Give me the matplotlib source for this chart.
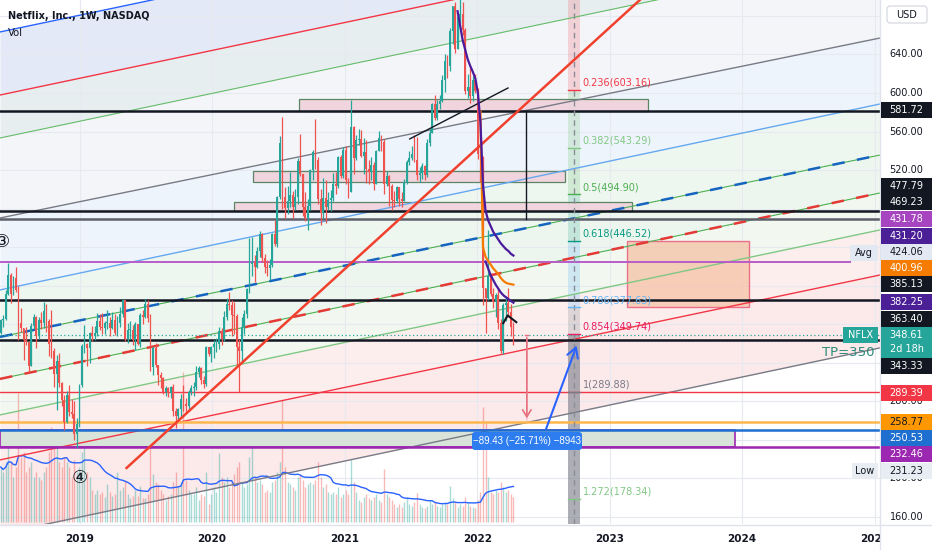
import numpy as np
import pandas as pd
import matplotlib
matplotlib.use("Agg")
import matplotlib.pyplot as plt
import matplotlib.dates as mdates
from matplotlib.patches import Rectangle, FancyBboxPatch
from matplotlib.transforms import blended_transform_factory

plt.rcParams['font.family'] = ['DejaVu Sans', 'Noto Sans CJK JP']

# ---------------- data (weekly candles, week of 2018-05-28 .. 2022-04-11) ----------------
first_open = 351.0
closes = [
    364, 365, 391, 411, 391, 408, 395, 361, 356, 343,
    341, 316, 358, 367, 348, 364, 361, 374, 363, 339,
    332, 308, 322, 299, 281, 258, 286, 269, 267, 246,
    256, 297,
    337, 339, 335, 351, 348, 351, 363, 357, 356, 361,
    361, 356, 364, 351, 361, 370, 385, 345, 354, 354,
    343, 360, 339, 369, 367, 381, 366, 315, 335, 318,
    307, 304, 290, 294, 288, 295, 270, 265, 272, 282,
    277, 275, 290, 294, 295, 310, 314, 302, 298, 336,
    329, 336,
    339, 339, 353, 345, 367, 381, 380, 369, 368, 336,
    332, 357, 370, 396, 422, 424, 419, 436, 454, 429,
    419, 418, 421, 454, 443, 492, 548, 492, 481, 488,
    494, 482, 492, 529, 516, 482, 470, 483, 520, 539,
    530, 490, 475, 491, 482, 489, 491, 505, 503, 534,
    514, 541,
    510, 497, 565, 532, 551, 552, 535, 539, 521, 518,
    525, 505, 540, 553, 549, 505, 514, 503, 489, 488,
    502, 490, 488, 508, 528, 533, 537, 530, 515, 517,
    524, 515, 548, 558, 589, 574, 589, 592, 614, 633,
    628, 664, 690, 646, 679, 682, 665, 602, 606, 597,
    613, 602,
    537, 525, 397, 387, 410, 391, 383, 390, 361, 332,
    380, 382, 373, 357, 348.61,
]
highs = [
    365, 369, 395, 423, 413, 410, 419, 400, 377, 356,
    357, 342, 361, 370, 368, 367, 373, 383, 381, 365,
    375, 335, 328, 330, 300, 286, 291, 297, 282, 280,
    263, 298,
    339, 359, 340, 352, 358, 358, 372, 370, 372, 363,
    375, 367, 373, 371, 368, 378, 386, 385, 361, 363,
    359, 362, 360, 372, 375, 386, 385, 371, 337, 340,
    318, 310, 305, 296, 295, 296, 298, 273, 273, 287,
    297, 283, 292, 297, 300, 316, 316, 315, 306, 337,
    336, 337,
    343, 346, 357, 356, 374, 387, 393, 385, 383, 370,
    345, 367, 375, 398, 449, 450, 432, 440, 457, 455,
    433, 427, 428, 455, 468, 493, 555, 575, 502, 503,
    518, 498, 500, 533, 557, 516, 497, 490, 521, 541,
    573, 534, 500, 512, 510, 497, 499, 517, 518, 535,
    536, 544,
    545, 512, 593, 566, 556, 563, 562, 553, 551, 530,
    534, 528, 541, 561, 556, 552, 519, 515, 506, 498,
    503, 502, 497, 511, 530, 540, 545, 556, 554, 523,
    527, 525, 552, 563, 590, 598, 593, 598, 619, 640,
    639, 668, 690, 695, 683, 701, 695, 668, 620, 626,
    618, 620,
    605, 545, 535, 397, 458, 413, 398, 392, 397, 365,
    382, 389, 398, 381, 362,
]
lows = [
    350, 357, 364, 390, 382, 390, 393, 344, 352, 323,
    338, 310, 316, 355, 335, 345, 355, 356, 352, 327,
    325, 295, 271, 295, 275, 250, 257, 265, 262, 240,
    231, 253,
    295, 330, 317, 320, 342, 344, 348, 354, 350, 350,
    355, 348, 355, 349, 348, 357, 367, 342, 340, 345,
    338, 333, 338, 336, 360, 366, 362, 311, 307, 315,
    297, 294, 287, 285, 284, 283, 265, 252, 260, 264,
    270, 268, 272, 286, 285, 292, 305, 298, 294, 296,
    327, 321,
    325, 331, 334, 338, 342, 364, 375, 348, 350, 316,
    290, 320, 350, 366, 392, 410, 404, 418, 430, 425,
    413, 410, 406, 419, 441, 440, 490, 480, 470, 474,
    482, 470, 478, 485, 514, 472, 467, 458, 478, 510,
    521, 485, 463, 470, 465, 478, 477, 488, 495, 501,
    512, 512,
    506, 491, 497, 516, 530, 546, 534, 516, 507, 505,
    510, 499, 505, 540, 540, 495, 503, 483, 478, 482,
    486, 483, 482, 488, 505, 525, 530, 528, 510, 508,
    511, 510, 513, 545, 560, 572, 572, 583, 591, 601,
    616, 623, 651, 642, 647, 673, 660, 599, 595, 590,
    592, 600,
    531, 508, 380, 351, 385, 389, 377, 367, 355, 330,
    329, 363, 367, 348, 338,
]
vol_2018 = [55, 50, 60, 75, 60, 45, 55, 129, 65, 70,
            50, 55, 60, 45, 50, 45, 42, 50, 55, 70,
            95, 85, 80, 60, 55, 65, 60, 55, 45, 62,
            50, 55]
vol_2019 = [70, 89, 50, 45, 32, 28, 32, 28, 30, 25,
            38, 30, 26, 28, 50, 32, 35, 42, 28, 24,
            26, 32, 26, 36, 24, 24, 28, 95, 48, 40,
            38, 32, 28, 22, 26, 28, 40, 50, 36, 40,
            150, 42, 32, 28, 28, 35, 22, 28, 26, 50,
            18, 28]
vol_2020 = [35, 30, 69, 45, 40, 45, 35, 40, 48, 55,
            60, 40, 35, 38, 65, 75, 45, 40, 42, 38,
            30, 32, 30, 40, 42, 50, 60, 122, 55, 40,
            38, 35, 32, 45, 48, 42, 35, 38, 40, 38,
            42, 60, 45, 35, 38, 30, 28, 30, 28, 35,
            25, 28]
vol_2021 = [32, 28, 62, 40, 30, 22, 20, 25, 28, 24,
            22, 25, 28, 22, 20, 53, 28, 25, 22, 18,
            15, 18, 15, 20, 25, 18, 16, 20, 29, 18,
            15, 14, 16, 22, 18, 20, 16, 15, 18, 20,
            18, 36, 24, 20, 15, 18, 16, 25, 20, 16,
            15, 14]
vol_2022 = [22, 30, 115, 100, 45, 30, 28, 32, 30, 40,
            35, 30, 32, 28, 25]

# indicator curves (weekly values)
ma_purple_start = '2021-11-08'
ma_purple = [685, 670, 655, 645, 635, 628, 622, 615, 600, 570, 505, 478,
             468, 462, 456, 452, 448, 444, 441, 438, 436, 433, 431.2]
ma_orange_start = '2022-01-10'
ma_orange = [581, 440, 430, 426, 422, 418, 415, 412, 408, 405, 403, 402,
             401.5, 400.96]
ma_indigo_start = '2022-01-24'
ma_indigo = [425, 418, 411, 406, 401, 397, 393, 390, 388, 386, 384, 382.25]

# parallel channel lines (price at start/end date)
chan_dates = ['2018-05-26', '2025-01-16']
chan_start = [663.4, 597.9, 553.3, 470.2, 395.5, 346.7, 303.1, 265.7, 219.0, 142.1]
chan_end = [855.6, 790.1, 745.4, 657.1, 588.6, 535.6, 496.2, 457.8, 411.0, 335.3]

# horizontal levels
black_levels = [581.72, 477.79, 469.23, 385.13, 343.33]
avg_level = 424.06
red_level = 289.39
orange_level = 258.77
blue_level = 250.53
purple_level = 232.46
last_price = 348.61

# fib retracement
fib_top = 699.92
fib_ratios = ['0.236', '0.382', '0.5', '0.618', '0.786', '0.854', '1', '1.272']
fib_values = [603.16, 543.29, 494.90, 446.52, 377.63, 349.74, 289.88, 178.34]

# right scale
price_grid = [160, 200, 240, 280, 320, 360, 400, 440, 480, 520, 560, 600, 640, 680]
price_ticks_shown = [640, 600, 560, 520, 280, 200, 160]
axis_labels = ['581.72', '477.79', '469.23', '431.78', '431.20', '424.06', '400.96',
               '385.13', '382.25', '363.40', '348.61', '343.33', '289.39', '258.77',
               '250.53', '232.46', '231.23']
years = [2019, 2020, 2021, 2022, 2023, 2024, 2025]

# ---------------- styling / layout ----------------
W, H = 932, 550
PR, PB = 880, 524
UP, DN = '#26a69a', '#ef5350'

fig = plt.figure(figsize=(W / 100, H / 100), dpi=100)
fig.patch.set_facecolor('white')
ax = fig.add_axes([0, (H - PB) / H, PR / W, PB / H])
ax.set_facecolor('white')


def d(s):
    return mdates.date2num(np.datetime64(s))


X0, X1 = d(chan_dates[0]), d(chan_dates[1])
YMIN, YMAX = 152.4, 696.6

# channel fills
fill_colors = ['#e4e9f7', '#e6eeef', '#f3f5f8', '#eef4fc', '#eef6f0',
               '#edf6ee', '#f2f8f0', '#fdeeee', '#fce9ea']
for i in range(len(chan_start) - 1):
    ax.fill_between([X0, X1], [chan_start[i], chan_end[i]],
                    [chan_start[i + 1], chan_end[i + 1]],
                    color=fill_colors[i], lw=0, zorder=0.2)

# grid
for p in price_grid:
    ax.axhline(p, color='#e6e9ef', lw=0.8, zorder=0.5)
for y in years:
    ax.axvline(d(f'{y}-01-01'), color='#e6e9ef', lw=0.8, zorder=0.5)

# fib column
fc0, fc1 = d('2022-09-08'), d('2022-10-11')
zone_cols = [('#f23645', .18), ('#81c784', .25), ('#4caf50', .18), ('#089981', .18),
             ('#64b5f6', .25), ('#9598a1', .30), ('#787b86', .60), ('#787b86', .60),
             ('#787b86', .60)]
bounds = [fib_top] + fib_values + [YMIN]
for i, (c, a) in enumerate(zone_cols):
    ax.fill_between([fc0, fc1], [bounds[i]] * 2, [bounds[i + 1]] * 2, color=c,
                    alpha=a, lw=0, zorder=0.7)

# volume
dates = pd.date_range('2018-05-28', periods=len(closes), freq='7D')
xd = mdates.date2num(dates.to_pydatetime())
c = np.array(closes, float)
o = np.concatenate([[first_open], c[:-1]])
hi = np.maximum(np.array(highs, float), np.maximum(o, c))
lo = np.minimum(np.array(lows, float), np.minimum(o, c))
cols = np.where(c >= o, UP, DN)
vol = np.array(vol_2018 + vol_2019 + vol_2020 + vol_2021 + vol_2022, float)
vol_ma = pd.Series(vol).rolling(20, min_periods=1).mean().values
vtrans = blended_transform_factory(ax.transData, ax.transAxes)
base = 2.0 / PB
ax.vlines(xd, base, base + vol / PB, colors=cols, lw=1.0, alpha=0.4,
          transform=vtrans, zorder=1)
ax.plot(xd, base + vol_ma / PB, color='#2962ff', lw=1.0, transform=vtrans, zorder=1.2)

# rectangles
rects = [('2020-08-27', '2023-04-16', 581.72, 593.5),
         ('2020-04-24', '2022-08-31', 507.6, 519.0),
         ('2020-02-29', '2023-03-05', 477.79, 486.8)]
for a0, a1, p0, p1 in rects:
    ax.add_patch(Rectangle((d(a0), p0), d(a1) - d(a0), p1 - p0, facecolor='#f1d2dc',
                           edgecolor='#4d7a55', lw=0.9, alpha=0.9, zorder=1.5))
ax.add_patch(Rectangle((X0, purple_level), d('2023-12-12') - X0, blue_level - purple_level,
                       facecolor='#d8e3da', edgecolor='#9c27b0', lw=1.2, zorder=1.5))
ax.add_patch(Rectangle((d('2023-02-17'), fib_values[4]), d('2024-01-21') - d('2023-02-17'),
                       fib_values[3] - fib_values[4], facecolor='#f6c2a6', alpha=0.75,
                       edgecolor='#e84a72', lw=1.0, zorder=1.6))

# channel lines
chan_styles = [dict(color='#2962ff', lw=1.0), dict(color='#f23645', lw=1.0),
               dict(color='#66bb6a', lw=0.8), dict(color='#787b86', lw=1.0),
               dict(color='#64a8f0', lw=1.0), dict(color='#4caf50', lw=0.8),
               dict(color='#4caf50', lw=0.8), dict(color='#81c784', lw=1.0),
               dict(color='#f23645', lw=1.0), dict(color='#787b86', lw=1.0)]
for i, st in enumerate(chan_styles):
    ax.plot([X0, X1], [chan_start[i], chan_end[i]], zorder=2, **st)
ax.plot([X0, X1], [chan_start[5], chan_end[5]], color='#1565c0', lw=1.8,
        dashes=(5, 5), zorder=2.1)
ax.plot([X0, X1], [chan_start[6], chan_end[6]], color='#e53935', lw=1.8,
        dashes=(5, 5), zorder=2.1)

# horizontal levels
blk_cols = ['#131722', '#131722', '#5d606b', '#131722', '#131722']
for p, col in zip(black_levels, blk_cols):
    ax.axhline(p, color=col, lw=1.8, zorder=3)
ax.plot([X0, d('2024-10-25')], [avg_level] * 2, color='#b85cc8', lw=1.4, zorder=3)
ax.axhline(red_level, color='#f23645', lw=1.0, zorder=3)
ax.axhline(orange_level, color='#ffb74d', lw=1.8, zorder=3)
ax.axhline(blue_level, color='#1e6fd0', lw=1.8, zorder=3)
ax.axhline(purple_level, color='#9c27b0', lw=1.8, zorder=3)
ax.axhline(last_price, color='#26a69a', lw=0.9, ls=(0, (1, 2)), zorder=3)

# fib lines + labels
fib_cols = ['#f23645', '#81c784', '#4caf50', '#089981', '#64b5f6', '#e91e63',
            '#787b86', '#81c784']
ax.plot([d('2022-09-24')] * 2, [YMIN, YMAX], color='#8a8d96', lw=1.0, dashes=(4, 3),
        zorder=3.2)
for r, v, col in zip(fib_ratios, fib_values, fib_cols):
    ax.plot([fc0, fc1], [v, v], color=col, lw=1.0, zorder=3.2)
    ax.annotate(f'{r}({v:.2f})', (d('2022-10-19'), v), xytext=(0, 1.5),
                textcoords='offset points', ha='left', va='bottom', fontsize=7,
                color=col, zorder=6)

# candles
ax.vlines(xd, lo, hi, colors=cols, lw=0.9, zorder=4)
ax.bar(xd, np.maximum(np.abs(c - o), 0.8), bottom=np.minimum(o, c), width=5.0,
       color=cols, lw=0, zorder=4.1)

# trend lines
ax.plot([d('2019-05-10'), d('2023-07-14')], [210.6, 734.5], color='#f0402e', lw=1.8,
        zorder=5)
ax.plot([d('2021-06-29'), d('2022-03-27')], [552.3, 605.2], color='#131722', lw=1.0,
        zorder=5)
ax.plot([d('2022-05-15')] * 2, [black_levels[2], black_levels[0]], color='#131722',
        lw=1.0, zorder=5)

# indicator curves
xp = mdates.date2num(pd.date_range(ma_purple_start, periods=len(ma_purple), freq='7D').to_pydatetime())
ax.plot(xp, ma_purple, color='#4a1a9c', lw=1.6, zorder=5.2)
xo = mdates.date2num(pd.date_range(ma_orange_start, periods=len(ma_orange), freq='7D').to_pydatetime())
ax.plot(xo, ma_orange, color='#f57c00', lw=1.6, zorder=5.1)
xi = mdates.date2num(pd.date_range(ma_indigo_start, periods=len(ma_indigo), freq='7D').to_pydatetime())
ax.plot(xi, ma_indigo, color='#4a1a9c', lw=1.6, zorder=5.2)
ax.plot([d('2022-03-14'), d('2022-03-26'), d('2022-04-19')], [361, 369, 362],
        color='#131722', lw=1.5, zorder=5.3)

# measurement arrows
mx = d('2022-05-18')
ax.add_patch(Rectangle((mx - 3, 259.18), 6, last_price - 259.18, facecolor='#f8bbd0',
                       alpha=0.5, lw=0, zorder=5))
ax.plot([mx - 4, mx + 4], [last_price] * 2, color='#e5707e', lw=1.0, zorder=5.4)
ax.annotate('', xy=(mx, 259.18), xytext=(mx, last_price),
            arrowprops=dict(arrowstyle='->,head_length=0.5,head_width=0.3',
                            color='#e5707e', lw=1.2), zorder=5.4)
ax.annotate('', xy=(d('2022-10-05'), 340.4), xytext=(d('2022-07-07'), 248.0),
            arrowprops=dict(arrowstyle='->,head_length=0.7,head_width=0.4',
                            color='#2962ff', lw=1.5), zorder=5.5)

# axes formatting
ax.set_xlim(X0, X1)
ax.set_ylim(YMIN, YMAX)
ax.set_xticks([d(f'{y}-01-01') for y in years])
ax.set_xticklabels([str(y) for y in years], fontsize=7.5, fontweight='bold',
                   color='#131722')
ax.tick_params(axis='x', length=0, pad=7)
ax.set_yticks([])
for s in ax.spines.values():
    s.set_visible(False)

# ---------------- overlay (pixel coordinates) ----------------
ov = fig.add_axes([0, 0, 1, 1])
ov.set_xlim(0, W)
ov.set_ylim(H, 0)
ov.axis('off')
ov.patch.set_alpha(0)
ov.set_zorder(10)


def price_px(p):
    return H - ax.transData.transform((X0, p))[1]


ov.add_patch(Rectangle((PR, 0), W - PR, H, facecolor='white', lw=0, zorder=1))
ov.plot([PR, PR], [0, H], color='#e0e3eb', lw=1, zorder=1.5)
ov.plot([0, W], [PB + 0.5, PB + 0.5], color='#e0e3eb', lw=1, zorder=1.5)

for p in price_ticks_shown:
    ov.text(906.5, price_px(p), f'{p:.2f}', ha='center', va='center', fontsize=7,
            color='#131722', zorder=2)

label_bg = ['#131722', '#131722', '#131722', '#a744c0', '#4b1f95', '#e3e9f3', '#f57c00',
            '#131722', '#4b1f95', '#131722', '#26a69a', '#131722', '#f23645', '#ff9800',
            '#1e6fd0', '#9c27b0', '#e8ecf3']
label_fg = ['white'] * 5 + ['#131722'] + ['white'] * 7 + ['#131722'] + ['white'] * 2 + ['#131722']
label_px = [110, 186, 202, 219, 236, 252, 268, 284, 302, 319, 335, 366, 393, 422, 438,
            454, 471]
for txt, bg, fg, yy in zip(axis_labels, label_bg, label_fg, label_px):
    hgt = 31 if txt == '348.61' else 16
    ov.add_patch(Rectangle((881, yy - 8), 51, hgt, facecolor=bg, lw=0, zorder=3))
    ov.text(906.5, yy, txt, ha='center', va='center', fontsize=7, color=fg, zorder=4)
ov.text(906.5, 349, '2d 18h', ha='center', va='center', fontsize=7, color='white',
        zorder=4)

# tags inside plot
for txt, x0, w, yy, bg, fg in [('NFLX', 843, 35, 335, '#26a69a', 'white'),
                               ('Avg', 850, 28, 253, '#e3e9f3', '#131722'),
                               ('Low', 852, 26, 471, '#e8ecf3', '#131722')]:
    ov.add_patch(Rectangle((x0, yy - 8), w, 16, facecolor=bg, lw=0, zorder=3))
    ov.text(x0 + w / 2, yy, txt, ha='center', va='center', fontsize=7, color=fg, zorder=4)

ov.text(848, 353, 'TP=350', ha='center', va='center', fontsize=9.5, color='#2a8a78',
        zorder=4)

# USD box
ov.add_patch(FancyBboxPatch((887, 6), 40, 17, boxstyle='round,pad=0,rounding_size=3',
                            facecolor='white', edgecolor='#d1d4dc', lw=0.8, zorder=3))
ov.text(907, 14.5, 'USD', ha='center', va='center', fontsize=7, color='#131722', zorder=4)

# title
ov.text(8, 16, 'Netflix, Inc., 1W, NASDAQ', ha='left', va='center', fontsize=7,
        fontweight='bold', color='#131722', zorder=4)
ov.text(8, 33, 'Vol', ha='left', va='center', fontsize=7.2, color='#131722', zorder=4)

# wave labels
ov.text(2, 242, '③', ha='center', va='center', fontsize=13, color='#131722', zorder=4)
ov.text(80, 478, '④', ha='center', va='center', fontsize=13, color='#131722', zorder=4)

# measurement label
ov.add_patch(FancyBboxPatch((472, 432), 110, 18, boxstyle='round,pad=0,rounding_size=3',
                            facecolor='#2d7cf0', edgecolor='none', zorder=3))
ov.text(527, 441, '−89.43 (−25.71%) −8943', ha='center', va='center', fontsize=7,
        family=['Liberation Sans', 'DejaVu Sans'], color='white', zorder=4)

fig.savefig('out.png', dpi=100)
